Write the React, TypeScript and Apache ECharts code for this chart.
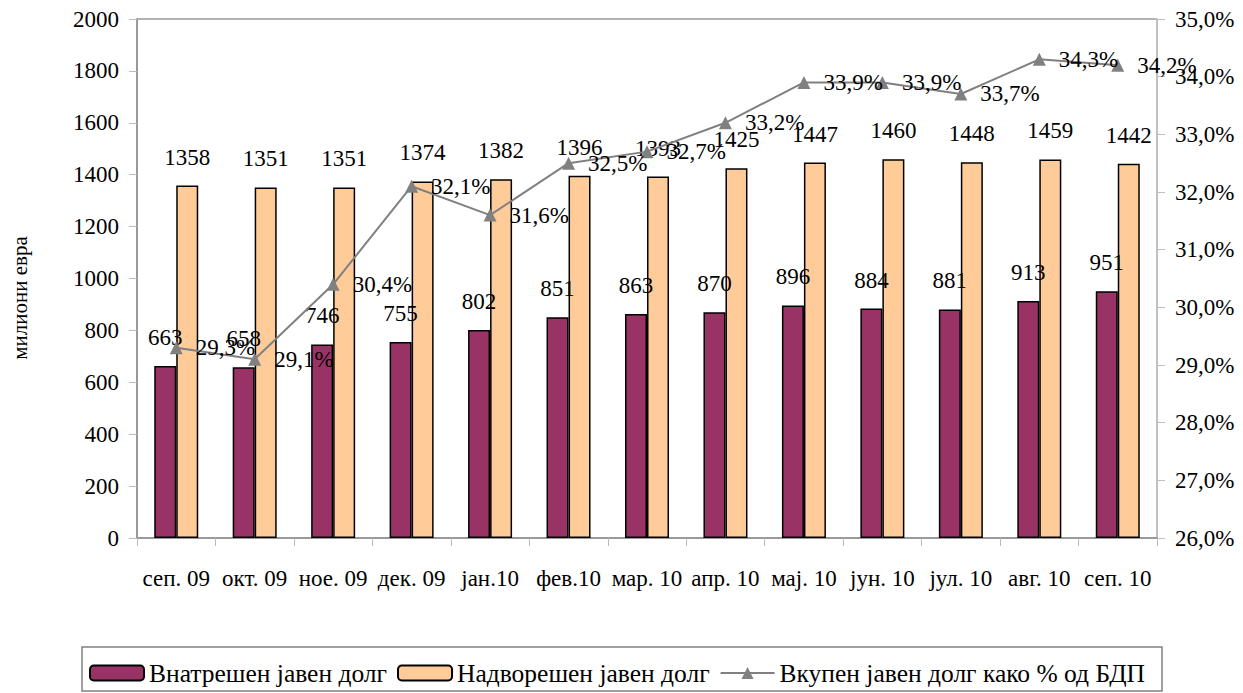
import React, { useEffect, useRef } from "react";
import * as echarts from "echarts";

const categories = ["сеп. 09", "окт. 09", "ное. 09", "дек. 09", "јан.10", "фев.10", "мар. 10", "апр. 10", "мај. 10", "јун. 10", "јул. 10", "авг. 10", "сеп. 10"];
const domesticDebt = [663, 658, 746, 755, 802, 851, 863, 870, 896, 884, 881, 913, 951];
const externalDebt = [1358, 1351, 1351, 1374, 1382, 1396, 1393, 1425, 1447, 1460, 1448, 1459, 1442];
const debtToGdp = [29.3, 29.1, 30.4, 32.1, 31.6, 32.5, 32.7, 33.2, 33.9, 33.9, 33.7, 34.3, 34.2];
const seriesNames = ["Внатрешен јавен долг", "Надворешен јавен долг", "Вкупен јавен долг како % од БДП"];
const axisTitle = "милиони евра";

const FONT = "Liberation Serif";
const FS = 23;
const pct = (v: number) => v.toFixed(1).replace(".", ",") + "%";

export default function App() {
  const ref = useRef<HTMLDivElement>(null);
  useEffect(() => {
    if (!ref.current) return;
    const chart = echarts.init(ref.current, null, { renderer: "svg" });
    chart.setOption({
      animation: false,
      backgroundColor: "#ffffff",
      textStyle: { fontFamily: FONT, color: "#000" },
      grid: {
        left: 137,
        right: 86,
        top: 19,
        bottom: 155,
        show: true,
        borderColor: "#666666",
        borderWidth: 1,
      },
      legend: {
        left: 84,
        top: 655,
        itemWidth: 54,
        itemHeight: 15,
        itemGap: 10,
        textStyle: { fontFamily: FONT, fontSize: 25.5, color: "#000" },
        data: seriesNames,
      },
      graphic: [
        {
          type: "rect",
          shape: { x: 82, y: 647, width: 1080, height: 44 },
          style: { fill: "none", stroke: "#808080", lineWidth: 1.5 },
          silent: true,
        },
        {
          type: "text",
          x: 20,
          y: 298,
          rotation: Math.PI / 2,
          style: {
            text: axisTitle,
            fontFamily: FONT,
            fontSize: 21,
            fill: "#000",
            align: "center",
            verticalAlign: "middle",
          },
        },
      ],
      xAxis: {
        type: "category",
        data: categories,
        axisLine: { lineStyle: { color: "#999999", width: 2 } },
        axisTick: { show: true, length: 8, lineStyle: { color: "#bbbbbb" } },
        axisLabel: { fontFamily: FONT, fontSize: FS, color: "#000", margin: 29, interval: 0 },
      },
      yAxis: [
        {
          type: "value",
          min: 0,
          max: 2000,
          interval: 200,
          splitLine: { show: false },
          axisLine: { show: true, lineStyle: { color: "#999999", width: 2 } },
          axisTick: { show: true, length: 8, lineStyle: { color: "#bbbbbb" } },
          axisLabel: { fontFamily: FONT, fontSize: FS, color: "#000", margin: 18, formatter: (v: number) => String(v) },
        },
        {
          type: "value",
          min: 26,
          max: 35,
          interval: 1,
          position: "right",
          splitLine: { show: false },
          axisLine: { show: true, lineStyle: { color: "#c0c0c0", width: 2 } },
          axisTick: { show: true, length: 8, lineStyle: { color: "#c0c0c0" } },
          axisLabel: { fontFamily: FONT, fontSize: FS, color: "#000", margin: 18, formatter: (v: number) => pct(v) },
        },
      ],
      series: [
        {
          name: seriesNames[0],
          type: "bar",
          data: domesticDebt,
          barWidth: 22,
          barGap: "0%",
          itemStyle: { color: "#993366", borderColor: "#000", borderWidth: 1.5 },
          label: { show: true, position: "top", distance: 17, fontFamily: FONT, fontSize: FS, color: "#000" },
        },
        {
          name: seriesNames[1],
          type: "bar",
          data: externalDebt,
          barWidth: 22,
          barGap: "0%",
          itemStyle: { color: "#FFCC99", borderColor: "#000", borderWidth: 1.5 },
          label: { show: true, position: "top", distance: 17, fontFamily: FONT, fontSize: FS, color: "#000" },
        },
        {
          name: seriesNames[2],
          type: "line",
          yAxisIndex: 1,
          data: debtToGdp,
          symbol: "triangle",
          symbolSize: 13,
          itemStyle: { color: "#808080" },
          lineStyle: { color: "#808080", width: 2 },
          label: {
            show: true,
            position: "right",
            distance: 13,
            fontFamily: FONT,
            fontSize: FS,
            color: "#000",
            formatter: (p: any) => pct(p.value),
          },
        },
      ],
    });
    return () => chart.dispose();
  }, []);
  return (
    <div
      ref={ref}
      style={{ position: "fixed", left: 0, top: 0, width: 1243, height: 693, background: "#fff" }}
    />
  );
}
